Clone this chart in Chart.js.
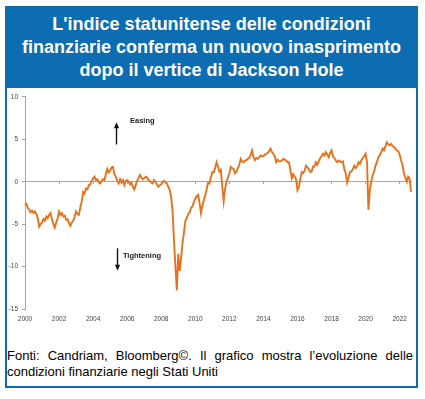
<!DOCTYPE html>
<html>
<head>
<meta charset="utf-8">
<script src="https://cdn.jsdelivr.net/npm/chart.js@4"></script>
<style>
  body { margin: 0; background: #fff; font-family: "Liberation Sans", Arial, sans-serif; }
  #frame { position: absolute; left: 5px; top: 6px; width: 413px; height: 382px; border: 2px solid #0c6db3; box-sizing: border-box; }
  #head { position: absolute; left: 5px; top: 6px; width: 413px; height: 82px; background: #0c6db3; color: #fff;
    font-weight: bold; font-size: 18px; line-height: 23px; text-align: center; padding-top: 7px; box-sizing: border-box; }
  #box { position: absolute; left: 8px; top: 89px; width: 408px; height: 246px; }
  #note { position: absolute; left: 7px; top: 348px; width: 406px; font-size: 13px; line-height: 16px; color: #000; text-align: justify; }
</style>
</head>
<body>
<div id="frame"></div>
<div id="head">L'indice statunitense delle condizioni<br>finanziarie conferma un nuovo inasprimento<br>dopo il vertice di Jackson Hole</div>
<div id="box"><canvas id="fciChart"></canvas></div>
<div id="note">Fonti: Candriam, Bloomberg©. Il grafico mostra l’evoluzione delle condizioni finanziarie negli Stati Uniti</div>
<script>
// US financial conditions index, monthly, Jan 2000 - Sep 2022
const fci = [
  -2.8, -2.6, -3.1, -3.3, -3.6, -3.4, -3.7, -3.5, -3.8, -4.3, -5.3, -5.0,   // 2000
  -4.8, -4.4, -4.6, -4.1, -4.3, -3.9, -3.7, -4.4, -5.0, -5.4, -4.8, -4.3,   // 2001
  -3.5, -3.9, -3.7, -4.1, -4.0, -4.5, -4.4, -4.9, -5.2, -4.8, -4.6, -4.1,   // 2002
  -3.5, -3.8, -3.9, -3.0, -2.3, -1.2, -1.4, -0.8, -0.9, -0.4, -0.3, 0.1,    // 2003
  0.4, 0.6, 0.2, 0.3, -0.1, -0.2, 0.1, 0.3, 0.2, 0.9, 1.5, 1.1,             // 2004
  1.3, 1.7, 1.75, 0.9, 0.6, 0.1, -0.2, 0.3, -0.1, 0.2, -0.4, 0.1,           // 2005
  0.2, 0.0, -0.3, -0.1, -0.6, -0.9, -0.4, 0.1, 0.4, 0.8, 0.5, 0.3,          // 2006
  0.4, 0.6, 0.5, 0.2, 0.1, -0.1, -0.2, 0.2, 0.0, -0.3, -0.6, -0.4,         // 2007
  -0.3, 0.0, 0.1, -0.1, -0.2, -0.6, -1.0, -1.8, -3.5, -7.0, -10.0, -12.8,  // 2008
  -8.5, -10.5, -9.0, -7.2, -6.0, -4.6, -4.3, -3.8, -3.6, -3.1, -2.9, -2.4, // 2009
  -2.0, -1.7, -1.55, -2.5, -3.7, -2.8, -2.2, -1.6, -0.9, -0.1, -0.2, 0.5,  // 2010
  1.15, 1.1, 1.6, 2.3, 1.8, 1.2, 1.4, -0.5, -2.3, -0.8, 0.0, 0.5,          // 2011
  1.0, 1.75, 1.6, 1.5, 1.0, 1.2, 1.6, 2.0, 2.7, 2.4, 2.3, 2.5,             // 2012
  2.55, 2.7, 2.8, 3.2, 3.7, 2.9, 2.55, 2.8, 2.7, 2.9, 3.1, 3.0,            // 2013
  3.0, 3.2, 3.3, 3.4, 3.6, 3.9, 3.5, 3.3, 3.0, 2.3, 2.6, 2.4,              // 2014
  2.4, 2.5, 2.7, 2.6, 2.5, 2.3, 2.3, 1.4, 0.4, 0.9, 0.6, 0.3,              // 2015
  -1.0, -0.6, 0.3, 1.15, 1.0, 1.3, 1.9, 1.7, 1.5, 1.15, 1.2, 1.8,          // 2016
  1.8, 2.3, 2.0, 2.4, 2.8, 3.0, 3.3, 3.1, 3.5, 3.2, 2.9, 3.4,              // 2017
  3.7, 3.0, 2.8, 2.5, 2.3, 2.5, 2.4, 2.3, 2.4, 1.5, 1.0, -0.1,             // 2018
  0.5, 1.15, 1.2, 1.5, 1.9, 1.6, 1.8, 2.3, 2.1, 2.5, 2.8, 3.0,             // 2019
  3.3, 2.3, -3.3, -1.0, 0.0, 0.8, 1.2, 1.9, 2.3, 2.9, 3.1, 3.5,            // 2020
  3.9, 3.7, 4.2, 4.65, 4.4, 4.3, 4.45, 4.2, 4.1, 3.9, 3.7, 3.6,            // 2021
  3.2, 2.5, 2.0, 1.0, 0.5, 0.0, 0.6, 0.4, -1.2                              // 2022
]
const xTickYears = [2000, 2002, 2004, 2006, 2008, 2010, 2012, 2014, 2016, 2018, 2020, 2022]
const yTicks = [-15, -10, -5, 0, 5, 10]

const months = []
for (let yr = 2000; months.length < fci.length; yr++) {
  for (let m = 1; m <= 12 && months.length < fci.length; m++) {
    months.push(yr + '-' + String(m).padStart(2, '0'))
  }
}

const keepYearTicks = (scale) => {
  scale.ticks = scale.ticks.filter(t => {
    const label = months[t.value]
    return label.endsWith('-01') && xTickYears.includes(+label.slice(0, 4))
  })
}

const gray = '#a6a6a6'
const tickFont = { family: 'Liberation Sans', size: 6.5 }

// Easing / Tightening arrows and labels
const notes = {
  id: 'notes',
  afterDatasetsDraw(chart) {
    const { ctx, scales: { x, y } } = chart
    const arrow = (idx, from, to) => {
      const px = Math.round(x.getPixelForValue(idx)) + 0.5
      const y1 = y.getPixelForValue(from)
      const y2 = y.getPixelForValue(to)
      const dir = y2 < y1 ? 1 : -1
      ctx.save()
      ctx.strokeStyle = '#111'
      ctx.fillStyle = '#111'
      ctx.lineWidth = 1.4
      ctx.beginPath()
      ctx.moveTo(px, y1)
      ctx.lineTo(px, y2 + dir * 4)
      ctx.stroke()
      ctx.beginPath()
      ctx.moveTo(px, y2)
      ctx.lineTo(px - 2.6, y2 + dir * 6)
      ctx.lineTo(px + 2.6, y2 + dir * 6)
      ctx.closePath()
      ctx.fill()
      ctx.restore()
    }
    const label = (text, idx, val) => {
      ctx.save()
      ctx.font = 'bold 7.5px "Liberation Sans", Arial, sans-serif'
      ctx.fillStyle = '#222'
      ctx.textBaseline = 'middle'
      ctx.fillText(text, x.getPixelForValue(idx), y.getPixelForValue(val))
      ctx.restore()
    }
    arrow(64, 4.4, 7.0)
    label('Easing', 74, 7.2)
    arrow(65, -7.85, -10.5)
    label('Tightening', 69, -8.8)
  }
}

const ctx = document.getElementById('fciChart')
new Chart(ctx, {
  type: 'line',
  data: {
    labels: months,
    datasets: [{
      data: fci,
      borderColor: '#e8711c',
      borderWidth: 1.9,
      pointRadius: 0,
      tension: 0
    }]
  },
  options: {
    responsive: true,
    maintainAspectRatio: false,
    animation: false,
    layout: { padding: { top: 5, right: 5, left: 0, bottom: 0 } },
    plugins: { legend: { display: false }, tooltip: { enabled: false } },
    scales: {
      x: {
        type: 'category',
        position: 'bottom',
        afterBuildTicks: keepYearTicks,
        afterFit: s => { s.height = 26 },
        border: { display: false },
        grid: { display: false, drawTicks: false },
        ticks: {
          autoSkip: false,
          maxRotation: 0,
          padding: 6,
          color: '#444',
          font: tickFont,
          callback(value) { return this.getLabelForValue(value).slice(0, 4) }
        }
      },
      xZero: {
        type: 'category',
        position: { y: 0 },
        afterBuildTicks: keepYearTicks,
        border: { display: true, color: gray, width: 1 },
        grid: { drawOnChartArea: false, drawTicks: true, tickLength: 2, color: gray },
        ticks: { display: false, autoSkip: false }
      },
      y: {
        min: -15,
        max: 10,
        afterBuildTicks: s => { s.ticks = yTicks.map(v => ({ value: v })) },
        afterFit: s => { s.width = 17 },
        border: { display: true, color: gray, width: 1 },
        grid: { drawOnChartArea: false, drawTicks: true, tickLength: 3, color: gray },
        ticks: { padding: 4, color: '#444', font: tickFont }
      }
    }
  },
  plugins: [notes]
})
</script>
</body>
</html>
